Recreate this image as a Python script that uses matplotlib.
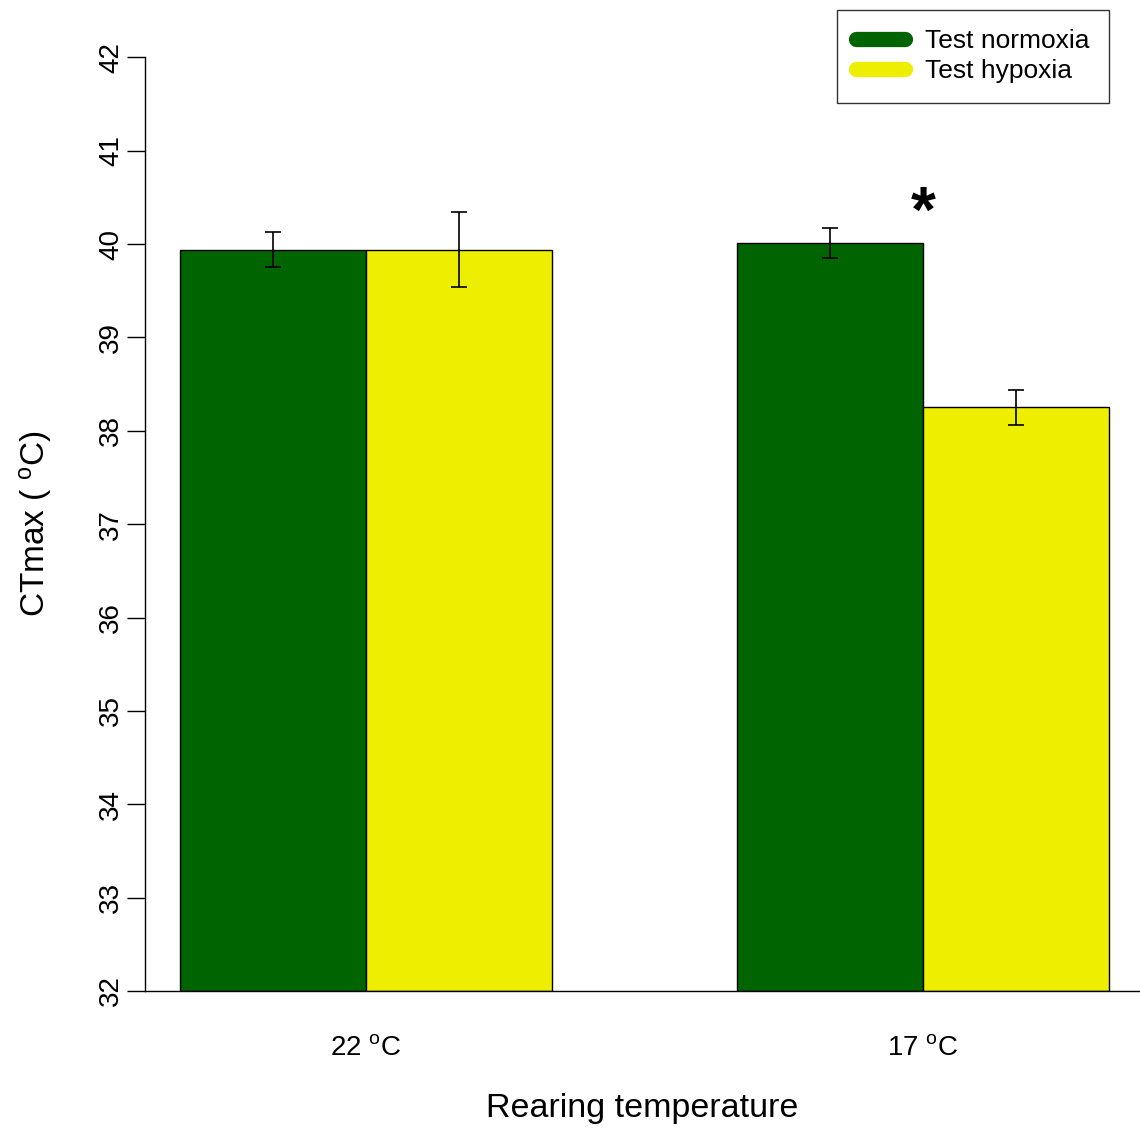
import matplotlib
matplotlib.use("Agg")
import matplotlib.pyplot as plt
from matplotlib.lines import Line2D
import numpy as np

plt.rcParams["font.family"] = ["Liberation Sans", "DejaVu Sans"]
plt.rcParams["mathtext.default"] = "regular"

# CTmax by rearing temperature and test condition
groups = ["22 $^{o}$C", "17 $^{o}$C"]
series = ["Test normoxia", "Test hypoxia"]
normoxia_mean = [39.94, 40.01]
normoxia_err = [0.19, 0.16]
hypoxia_mean = [39.94, 38.25]
hypoxia_err = [0.40, 0.19]
colors = ["#006400", "#EEEE00"]
y_ticks = [32, 33, 34, 35, 36, 37, 38, 39, 40, 41, 42]

fig = plt.figure(figsize=(11.4, 11.3), dpi=100)
ax = fig.add_axes([145 / 1140, 1 - 991 / 1130, 995 / 1140, (991 - 57.3) / 1130])

# barplot-style layout: one bar width gap between groups
group_left = np.array([1.0, 4.0])
width = 1.0
means = [normoxia_mean, hypoxia_mean]
errs = [normoxia_err, hypoxia_err]
for i, (m, e) in enumerate(zip(means, errs)):
    x = group_left + i * width + width / 2
    ax.bar(x, np.array(m) - 32, width=width, bottom=32, color=colors[i],
           edgecolor="black", linewidth=1.0, zorder=2)
    ax.errorbar(x, m, yerr=e, fmt="none", ecolor="black", elinewidth=1.2,
                capsize=6, capthick=1.2, zorder=3)

# significance marker above the 17 °C pair
ax.text(5.0, 40.31, "*", ha="center", va="center", fontsize=46,
        fontweight="bold", color="black")

x0 = 0.812
ax.set_xlim(x0, x0 + 995 / 185.8)
ax.set_ylim(32, 42)
ax.set_yticks(y_ticks)
ax.set_yticklabels([str(t) for t in y_ticks])
ax.set_xticks(group_left + width)
ax.set_xticklabels(groups)

for side in ["top", "right"]:
    ax.spines[side].set_visible(False)
for side in ["left", "bottom"]:
    ax.spines[side].set_linewidth(1.0)

ax.tick_params(axis="y", labelrotation=90, length=13, width=1.0, pad=2,
               labelsize=20)
ax.tick_params(axis="x", length=0, pad=32, labelsize=20)
for lab in ax.get_yticklabels():
    lab.set_va("center")

ax.set_ylabel("CTmax ( $^{o}$C)", fontsize=24)
ax.yaxis.label.set_va("center")
ax.yaxis.set_label_coords((36 - 145) / 995, 0.5)
ax.set_xlabel("Rearing temperature", fontsize=24.5)
ax.xaxis.label.set_va("center")
ax.xaxis.set_label_coords(0.5, (991 - 1108) / 933.7)

handles = [Line2D([0], [0], color=c, lw=11, solid_capstyle="round") for c in colors]
leg = fig.legend(handles, series, loc="upper right",
                 bbox_to_anchor=(1109 / 1140, 1 - 10 / 1130),
                 fontsize=19, frameon=True, fancybox=False,
                 borderaxespad=0, handlelength=1.86, handletextpad=0.76,
                 labelspacing=0.23, borderpad=0.73)
leg.get_frame().set_edgecolor("black")
leg.get_frame().set_linewidth(1.0)

fig.savefig("out.png", dpi=100, facecolor="white")
